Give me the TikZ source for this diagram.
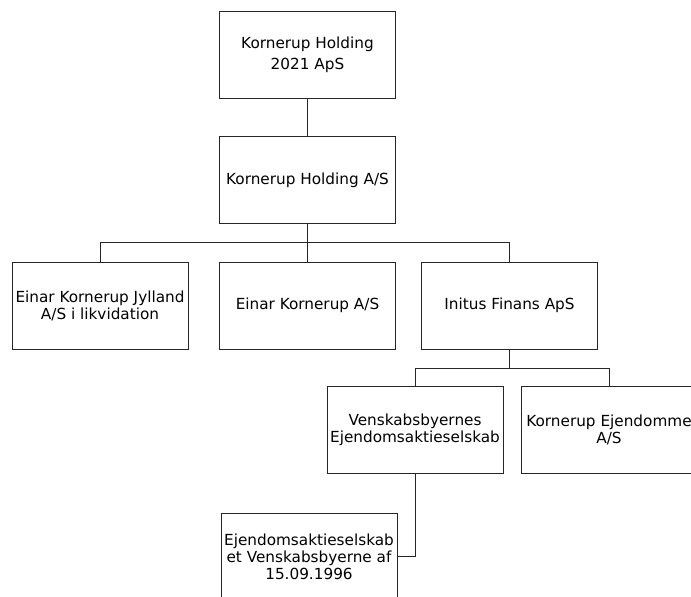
\documentclass[tikz,border=0pt]{standalone}
\usepackage{fontspec}
\setmainfont{DejaVu Sans}
\begin{document}
\begin{tikzpicture}[x=0.75pt,y=-0.75pt,
  orgbox/.style={draw=black!85,line width=0.75pt,rectangle,minimum width=132pt,minimum height=65.25pt,
    inner sep=0pt,align=center,font=\fontsize{11.45pt}{12.75pt}\selectfont},
  link/.style={draw=black!85,line width=0.75pt}]
\clip (0,0) rectangle (691,596);
\fill[white] (0,0) rectangle (691,596);
\node[orgbox,font=\fontsize{11.45pt}{15.75pt}\selectfont] (top) at (307.5,54.5) {Kornerup Holding\\2021 ApS};
\node[orgbox] (kh) at (307.5,180) {Kornerup Holding A/S};
\node[orgbox] (ej) at (100,305.5) {Einar Kornerup Jylland\\A/S i likvidation};
\node[orgbox] (ek) at (307.5,305.5) {Einar Kornerup A/S};
\node[orgbox] (inf) at (509.5,305.5) {Initus Finans ApS};
\node[orgbox] (ven) at (415,430) {Venskabsbyernes\\Ejendomsaktieselskab};
\node[orgbox] (kee) at (609,430) {Kornerup Ejendomme\\A/S};
\node[orgbox] (ejv) at (309,556.5) {Ejendomsaktieselskab\\et Venskabsbyerne af\\15.09.1996};
\coordinate (b1) at (0,242.5);
\coordinate (b2) at (0,368);
\draw[link] (top.south) -- (kh.north);
\draw[link] (kh.south) -- (kh.south |- b1);
\draw[link] (ej.north) |- (b1 -| inf.north) -- (inf.north);
\draw[link] (ek.north) -- (ek.north |- b1);
\draw[link] (inf.south) -- (inf.south |- b2);
\draw[link] (ven.north) |- (b2 -| kee.north) -- (kee.north);
\draw[link] (ven.south) |- (ejv.east);
\end{tikzpicture}
\end{document}
